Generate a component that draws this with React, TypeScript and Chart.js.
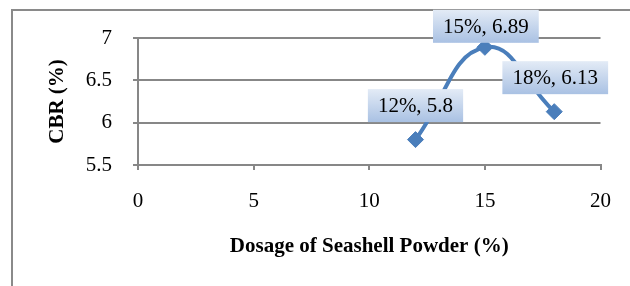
import { useEffect, useRef } from "react";
import { Chart, registerables } from "chart.js";

Chart.register(...registerables);

// ---- data ----
const dosage = [12, 15, 18];
const cbr = [5.8, 6.89, 6.13];
const xTitle = "Dosage of Seashell Powder (%)";
const yTitle = "CBR (%)";
const xRange = { min: 0, max: 20, step: 5 };
const yRange = { min: 5.5, max: 7, step: 0.5 };

const FONT = '"Liberation Serif", "Times New Roman", serif';

export default function App() {
  const ref = useRef<HTMLCanvasElement>(null);

  useEffect(() => {
    if (!ref.current) return;
    const labelOffsets = [
      { dx: 0, dy: -34 },
      { dx: 1, dy: -21 },
      { dx: 1, dy: -34 },
    ];
    const gridColor = "#878787";
    const lineColor = "#4a7ebb";
    const fontSize = 21;

    const framePlugin = {
      id: "frame",
      beforeDraw(chart: any) {
        const ctx = chart.ctx;
        ctx.save();
        ctx.fillStyle = "#ffffff";
        ctx.fillRect(0, 0, chart.width, chart.height);
        ctx.strokeStyle = "#8a8a8a";
        ctx.lineWidth = 2;
        ctx.beginPath();
        ctx.moveTo(12, chart.height + 4);
        ctx.lineTo(12, 10);
        ctx.lineTo(chart.width + 4, 10);
        ctx.stroke();
        ctx.restore();
      },
    };

    const labelPlugin = {
      id: "pointLabels",
      afterDatasetsDraw(chart: any) {
        const ctx = chart.ctx;
        const meta = chart.getDatasetMeta(0);
        ctx.save();
        ctx.font = `${fontSize}px ${FONT}`;
        ctx.textAlign = "center";
        ctx.textBaseline = "middle";
        meta.data.forEach((pt: any, i: number) => {
          const text = `${dosage[i]}%, ${cbr[i]}`;
          const off = labelOffsets[i];
          const cx = pt.x + off.dx;
          const cy = pt.y + off.dy;
          const w = ctx.measureText(text).width + 20;
          const h = 33;
          const x0 = cx - w / 2;
          const y0 = cy - h / 2;
          const g = ctx.createLinearGradient(0, y0, 0, y0 + h);
          g.addColorStop(0, "#e3ebf6");
          g.addColorStop(1, "#a9c1e3");
          ctx.fillStyle = g;
          ctx.fillRect(x0, y0, w, h);
          ctx.fillStyle = "#000000";
          ctx.fillText(text, cx, cy + 1);
        });
        ctx.restore();
      },
    };

    const chart = new Chart(ref.current, {
      type: "line",
      data: {
        datasets: [
          {
            data: dosage.map((x, i) => ({ x, y: cbr[i] })),
            borderColor: lineColor,
            backgroundColor: lineColor,
            borderWidth: 4,
            tension: 0.45,
            pointStyle: "rectRot",
            pointRadius: 8,
            pointBackgroundColor: lineColor,
            pointBorderColor: lineColor,
            pointBorderWidth: 1,
            fill: false,
          },
        ],
      },
      options: {
        animation: false,
        responsive: false,
        events: [],
        layout: { padding: { left: 45, right: 29, top: 38, bottom: 27 } },
        plugins: {
          legend: { display: false },
          tooltip: { enabled: false },
        },
        scales: {
          x: {
            type: "linear",
            min: xRange.min,
            max: xRange.max,
            ticks: {
              stepSize: xRange.step,
              padding: 19,
              color: "#000",
              font: { family: FONT, size: fontSize },
              callback: (v: any) => `${+v}`,
            },
            grid: {
              drawOnChartArea: false,
              drawTicks: true,
              tickLength: 5,
              color: gridColor,
              lineWidth: 2,
            },
            border: { display: true, color: gridColor, width: 2 },
            title: {
              display: true,
              text: xTitle,
              color: "#000",
              font: { family: FONT, size: fontSize, weight: "bold" },
              padding: 0,
            },
            afterFit(s: any) {
              s.height = 94;
            },
          },
          y: {
            type: "linear",
            min: yRange.min,
            max: yRange.max,
            ticks: {
              stepSize: yRange.step,
              padding: 21,
              color: "#000",
              font: { family: FONT, size: fontSize },
              callback: (v: any) => `${+v}`,
            },
            grid: {
              drawTicks: true,
              tickLength: 5,
              color: gridColor,
              lineWidth: 2,
            },
            border: { display: true, color: gridColor, width: 2 },
            title: {
              display: true,
              text: yTitle,
              color: "#000",
              font: { family: FONT, size: fontSize, weight: "bold" },
              padding: 0,
            },
            afterFit(s: any) {
              s.width = 93;
            },
          },
        },
      },
      plugins: [framePlugin, labelPlugin],
    } as any);

    return () => chart.destroy();
  }, []);

  return (
    <div style={{ position: "absolute", left: 0, top: 0, width: 630, height: 286 }}>
      <canvas ref={ref} width={630} height={286} style={{ display: "block" }} />
    </div>
  );
}
